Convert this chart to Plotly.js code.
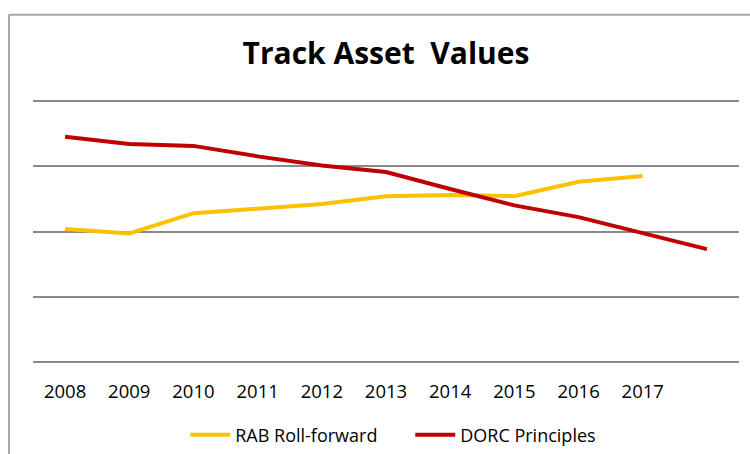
<!DOCTYPE html>
<html>
<head>
<meta charset="utf-8">
<script src="https://cdn.plot.ly/plotly-3.0.1.min.js"></script>
<style>
  html, body { margin: 0; padding: 0; background: #fff; }
  #chart { width: 750px; height: 454px; }
</style>
</head>
<body>
<div id="chart"></div>
<script>
// years on the axis; 2018 only has a DORC value and no label
const years = [2008, 2009, 2010, 2011, 2012, 2013, 2014, 2015, 2016, 2017, 2018];
const labelYears = [2008, 2009, 2010, 2011, 2012, 2013, 2014, 2015, 2016, 2017];

// values (unitless, gridlines every 1)
const rabYears = [2008, 2009, 2010, 2011, 2012, 2013, 2014, 2015, 2016, 2017];
const rabValues = [2.04, 1.97, 2.28, 2.35, 2.42, 2.54, 2.56, 2.54, 2.76, 2.85];
const dorcValues = [3.45, 3.34, 3.31, 3.15, 3.01, 2.91, 2.65, 2.40, 2.22, 1.98, 1.73];

const font = "'Open Sans', 'Liberation Sans', sans-serif";

const traceRab = {
    x: rabYears,
    y: rabValues,
    mode: "lines",
    type: "scatter",
    line: { color: "#FFC000", width: 4 },
    name: "RAB Roll-forward",
};

const traceDorc = {
    x: years,
    y: dorcValues,
    mode: "lines",
    type: "scatter",
    line: { color: "#C00000", width: 4 },
    name: "DORC Principles",
};

const layout = {
    width: 750,
    height: 454,
    paper_bgcolor: "#fff",
    plot_bgcolor: "#fff",
    margin: { l: 33, r: 11, t: 91, b: 82, autoexpand: false },
    font: { family: font, color: "#000" },
    title: {
        text: "<b>Track Asset\u00A0\u00A0Values</b>",
        font: { family: font, size: 30, color: "#000" },
        x: 0.5,
        xref: "paper",
        xanchor: "center",
        y: 0.883,
        yref: "container",
        yanchor: "middle",
    },
    xaxis: {
        range: [2007.5, 2018.5],
        tickmode: "array",
        tickvals: labelYears,
        ticktext: labelYears.map(String),
        showgrid: false,
        zeroline: false,
        showline: false,
        ticks: "",
        ticklabelstandoff: 6,
        tickfont: { family: font, size: 18.5, color: "#000" },
        fixedrange: true,
    },
    yaxis: {
        range: [-0.15, 4.15],
        tickvals: [0, 1, 2, 3, 4],
        showticklabels: false,
        showgrid: true,
        gridcolor: "#8a8a8a",
        gridwidth: 2,
        zeroline: false,
        showline: false,
        ticks: "",
        fixedrange: true,
    },
    legend: {
        orientation: "h",
        xref: "container",
        yref: "container",
        x: 0.247,
        xanchor: "left",
        y: 0.042,
        yanchor: "middle",
        font: { family: font, size: 18, color: "#000" },
        entrywidth: 170,
        itemwidth: 40,
        traceorder: "normal",
    },
    showlegend: true,
    shapes: [
        // outer frame of the chart box (top and left edges are visible)
        { type: "line", xref: "paper", yref: "paper", x0: -0.034, x1: 1.02, y0: 1.271, y1: 1.271,
          line: { color: "#a6a6a6", width: 2 } },
        { type: "line", xref: "paper", yref: "paper", x0: -0.034, x1: -0.034, y0: 1.271, y1: -0.3,
          line: { color: "#a6a6a6", width: 2 } },
    ],
};

Plotly.newPlot("chart", [traceRab, traceDorc], layout, { displayModeBar: false, staticPlot: true });
</script>
</body>
</html>
